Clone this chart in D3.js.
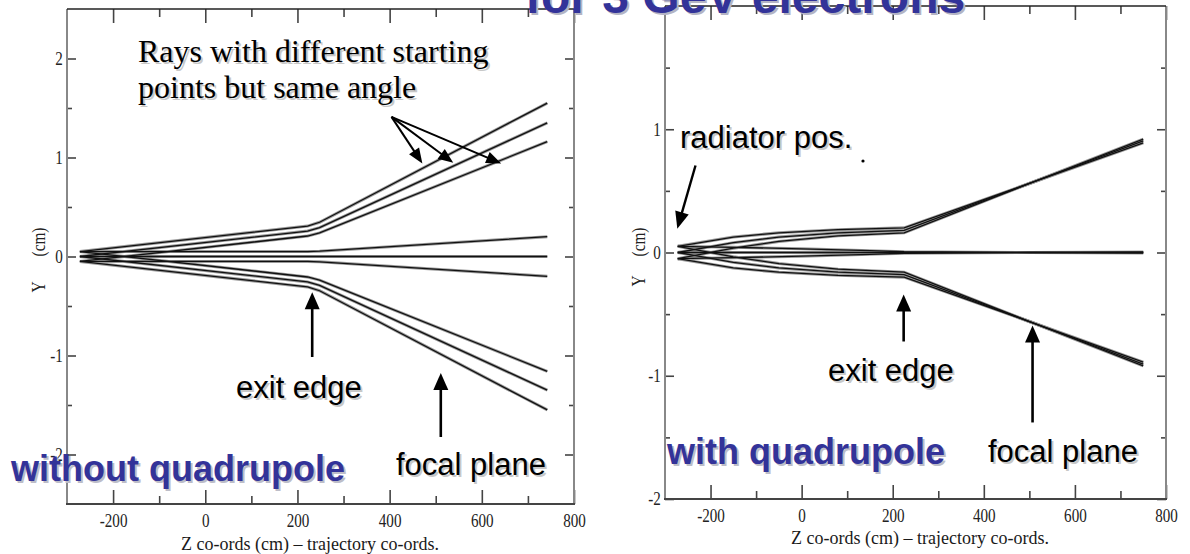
<!DOCTYPE html>
<html>
<head>
<meta charset="utf-8">
<script src="https://cdn.jsdelivr.net/npm/d3@7"></script>
<style>
  html, body { margin: 0; padding: 0; background: #fff; }
  svg { display: block; }
</style>
</head>
<body>
<svg id="chart" width="1190" height="554"></svg>
<script>
// ---- axis ticks ----------------------------------------------------------
const zTicksMajor = [-200, 0, 200, 400, 600, 800];
const zTicksMinor = [-100, 100, 300, 500, 700];
const yTicksMajorLeft = [-2, -1, 0, 1, 2];
const yTicksMajorRight = [-2, -1, 0, 1];   // the top value sits under the heading
const yTicksMinor = [-1.5, -0.5, 0.5, 1.5];

// ---- trajectories without quadrupole: [z (cm), y (cm)] -------------------
// three bundles of parallel rays (start y = +0.05, 0, -0.05)
const raysNoQuadUpper = [
  [[-272, 0.05], [222, 0.307], [248, 0.346], [742, 1.55]],
  [[-272, 0.00], [222, 0.257], [248, 0.292], [742, 1.35]],
  [[-272, -0.05], [222, 0.207], [248, 0.238], [742, 1.16]]
];
const raysNoQuadMiddle = [
  [[-272, 0.05], [222, 0.05], [248, 0.054], [742, 0.20]],
  [[-272, 0.00], [222, 0.00], [248, 0.00], [742, 0.00]],
  [[-272, -0.05], [222, -0.05], [248, -0.054], [742, -0.20]]
];
const raysNoQuadLower = [
  [[-272, -0.05], [222, -0.307], [248, -0.346], [742, -1.55]],
  [[-272, 0.00], [222, -0.257], [248, -0.292], [742, -1.35]],
  [[-272, 0.05], [222, -0.207], [248, -0.238], [742, -1.16]]
];

// ---- trajectories with quadrupole: [z (cm), y (cm)] ----------------------
const raysQuadUpper = [
  [[-272, 0.05], [-150, 0.125], [-50, 0.16], [80, 0.185], [225, 0.20], [500, 0.56], [750, 0.89]],
  [[-272, 0.00], [-150, 0.08], [-50, 0.125], [80, 0.16], [225, 0.18], [500, 0.56], [750, 0.905]],
  [[-272, -0.05], [-150, 0.035], [-50, 0.09], [80, 0.135], [225, 0.16], [500, 0.56], [750, 0.92]]
];
const raysQuadMiddle = [
  [[-272, 0.05], [-150, 0.042], [0, 0.03], [150, 0.015], [225, 0.006], [500, 0.0], [750, -0.004]],
  [[-272, 0.00], [-150, 0.0], [0, 0.0], [150, 0.0], [225, 0.0], [500, 0.0], [750, 0.0]],
  [[-272, -0.05], [-150, -0.042], [0, -0.03], [150, -0.015], [225, -0.006], [500, 0.0], [750, 0.004]]
];
const raysQuadLower = [
  [[-272, -0.05], [-150, -0.125], [-50, -0.16], [80, -0.185], [225, -0.20], [500, -0.56], [750, -0.89]],
  [[-272, 0.00], [-150, -0.08], [-50, -0.125], [80, -0.16], [225, -0.18], [500, -0.56], [750, -0.905]],
  [[-272, 0.05], [-150, -0.035], [-50, -0.09], [80, -0.135], [225, -0.16], [500, -0.56], [750, -0.92]]
];

// ---- styling -------------------------------------------------------------
const SERIF = "'Liberation Serif', 'Times New Roman', serif";
const SANS = "'Liberation Sans', Arial, sans-serif";
const BLUE = "#333399";

const svg = d3.select("#chart");

function drawPanel(cfg) {
  const g = svg.append("g");
  const x = d3.scaleLinear().domain(cfg.xDomain).range(cfg.xRange);
  const y = d3.scaleLinear().domain(cfg.yDomain).range(cfg.yRange);
  const [xl, xr] = cfg.xRange;
  const [yb, yt] = cfg.yRange;
  const fmt = d => String(d);

  const styleAxis = sel => {
    sel.select(".domain").remove();
    sel.selectAll(".tick line").attr("stroke", "#444").attr("stroke-width", 1.6);
    sel.selectAll("text").attr("font-family", SERIF).attr("font-size", 18)
      .attr("fill", "#222").attr("transform", "scale(0.84,1)");
  };

  // bottom
  g.append("g").attr("transform", `translate(0,${yb})`)
    .call(d3.axisBottom(x).tickValues(zTicksMajor).tickSize(-14).tickPadding(10).tickFormat(fmt))
    .call(styleAxis);
  g.append("g").attr("transform", `translate(0,${yb})`)
    .call(d3.axisBottom(x).tickValues(zTicksMinor).tickSize(-8).tickFormat(""))
    .call(styleAxis);
  // top (mirror ticks)
  g.append("g").attr("transform", `translate(0,${yt})`)
    .call(d3.axisTop(x).tickValues(zTicksMajor).tickSize(-14).tickFormat(""))
    .call(styleAxis);
  g.append("g").attr("transform", `translate(0,${yt})`)
    .call(d3.axisTop(x).tickValues(zTicksMinor).tickSize(-8).tickFormat(""))
    .call(styleAxis);
  // left
  g.append("g").attr("transform", `translate(${xl},0)`)
    .call(d3.axisLeft(y).tickValues(cfg.yMajor).tickSize(-9).tickPadding(5).tickFormat(fmt))
    .call(styleAxis);
  g.append("g").attr("transform", `translate(${xl},0)`)
    .call(d3.axisLeft(y).tickValues(yTicksMinor).tickSize(-5).tickFormat(""))
    .call(styleAxis);
  // right
  g.append("g").attr("transform", `translate(${xr},0)`)
    .call(d3.axisRight(y).tickValues(cfg.yMajor).tickSize(-9).tickFormat(""))
    .call(styleAxis);
  g.append("g").attr("transform", `translate(${xr},0)`)
    .call(d3.axisRight(y).tickValues(yTicksMinor).tickSize(-5).tickFormat(""))
    .call(styleAxis);

  // frame
  g.append("line").attr("x1", xl).attr("x2", xl).attr("y1", yt).attr("y2", yb)
    .attr("stroke", "#888").attr("stroke-width", 2);
  g.append("line").attr("x1", xr).attr("x2", xr).attr("y1", yt).attr("y2", yb)
    .attr("stroke", "#888").attr("stroke-width", 2);
  g.append("line").attr("x1", xl).attr("x2", xr).attr("y1", yt).attr("y2", yt)
    .attr("stroke", "#222").attr("stroke-width", 1.6);
  g.append("line").attr("x1", xl - 1).attr("x2", xr + 1).attr("y1", yb).attr("y2", yb)
    .attr("stroke", "#444").attr("stroke-width", 1.8);

  // rays
  const line = d3.line().x(d => x(d[0])).y(d => y(d[1]));
  const rays = cfg.rays;
  g.append("g").selectAll("path").data(rays).join("path")
    .attr("d", line).attr("fill", "none").attr("stroke", "#9a9a9a").attr("stroke-width", 3);
  g.append("g").selectAll("path").data(rays).join("path")
    .attr("d", line).attr("fill", "none").attr("stroke", "#111").attr("stroke-width", 1.3);

  // axis titles
  g.append("text").attr("x", cfg.xTitle[0]).attr("y", cfg.xTitle[1])
    .attr("text-anchor", "middle").attr("font-family", SERIF).attr("font-size", 18)
    .attr("fill", "#1a1a1a").text("Z co-ords (cm) \u2013 trajectory co-ords.");
  g.append("text").attr("transform", `translate(${cfg.yTitleX},${cfg.yTitleY[0]}) rotate(-90) scale(0.85,1)`)
    .attr("text-anchor", "middle").attr("dy", "0.35em").attr("font-family", SERIF)
    .attr("font-size", 18).attr("fill", "#222").text("Y");
  g.append("text").attr("transform", `translate(${cfg.yTitleX},${cfg.yTitleY[1]}) rotate(-90) scale(0.85,1)`)
    .attr("text-anchor", "middle").attr("dy", "0.35em").attr("font-family", SERIF)
    .attr("font-size", 18).attr("fill", "#222").text("(cm)");

  return { x, y, g };
}

function arrow(g, x1, y1, x2, y2, headLen, headW, width) {
  const dx = x2 - x1, dy = y2 - y1, L = Math.hypot(dx, dy);
  const ux = dx / L, uy = dy / L;
  const bx = x2 - ux * headLen, by = y2 - uy * headLen;
  g.append("line").attr("x1", x1).attr("y1", y1).attr("x2", bx + ux * 2).attr("y2", by + uy * 2)
    .attr("stroke", "#000").attr("stroke-width", width);
  const px = -uy * headW / 2, py = ux * headW / 2;
  g.append("path")
    .attr("d", `M${x2},${y2}L${bx + px},${by + py}L${bx - px},${by - py}Z`)
    .attr("fill", "#000");
}

function label(g, x, y, str, font, size, color, weight, shadow) {
  g.append("text").attr("x", x + 2).attr("y", y + 2).attr("font-family", font)
    .attr("font-size", size).attr("font-weight", weight).attr("fill", shadow).text(str);
  g.append("text").attr("x", x).attr("y", y).attr("font-family", font)
    .attr("font-size", size).attr("font-weight", weight).attr("fill", color).text(str);
}

// ---- left panel: without quadrupole --------------------------------------
const left = drawPanel({
  xDomain: [-300, 800], xRange: [67, 574],
  yDomain: [-2.5, 2.5], yRange: [504, 9], yMajor: yTicksMajorLeft,
  rays: [...raysNoQuadUpper, ...raysNoQuadMiddle, ...raysNoQuadLower],
  xTitle: [310, 550], yTitleX: 39, yTitleY: [287, 242]
});

// ---- right panel: with quadrupole ----------------------------------------
const right = drawPanel({
  xDomain: [-300, 800], xRange: [665, 1166],
  yDomain: [-2, 2], yRange: [499, 6], yMajor: yTicksMajorRight,
  rays: [...raysQuadUpper, ...raysQuadMiddle, ...raysQuadLower],
  xTitle: [920, 544], yTitleX: 639, yTitleY: [281, 242]
});

const ann = svg.append("g");

// annotations, left panel
{
  const { x, y } = left;
  const o = [x(404), y(1.41)];
  [[471, 0.94], [538, 0.947], [642, 0.94]].forEach(t =>
    arrow(ann, o[0], o[1], x(t[0]), y(t[1]), 15, 12, 2));
  arrow(ann, x(232), y(-1.015), x(232), y(-0.36), 17, 15, 2.6);
  arrow(ann, x(511), y(-1.823), x(511), y(-1.177), 17, 15, 2.6);
  label(ann, 138, 62, "Rays with different starting", SERIF, 32, "#000", "normal", "#c8c8c8");
  label(ann, 138, 98, "points but same angle", SERIF, 32, "#000", "normal", "#c8c8c8");
  label(ann, 236, 398, "exit edge", SANS, 31, "#000", "normal", "#c8c8c8");
  label(ann, 396, 475, "focal plane", SANS, 31, "#000", "normal", "#c8c8c8");
  label(ann, 11, 481, "without quadrupole", SANS, 36, BLUE, "bold", "#bdbdc8");
}

// annotations, right panel
{
  const { x, y } = right;
  arrow(ann, x(-233), y(0.706), x(-273), y(0.192), 17, 14, 2.4);
  arrow(ann, x(224), y(-0.722), x(224), y(-0.341), 17, 15, 2.6);
  arrow(ann, x(507), y(-1.379), x(507), y(-0.592), 17, 15, 2.6);
  label(ann, 680, 148, "radiator pos.", SANS, 31, "#000", "normal", "#c8c8c8");
  ann.append("circle").attr("cx", 863).attr("cy", 161).attr("r", 1.6).attr("fill", "#000");
  label(ann, 828, 381, "exit edge", SANS, 31, "#000", "normal", "#c8c8c8");
  label(ann, 988, 462, "focal plane", SANS, 31, "#000", "normal", "#c8c8c8");
  label(ann, 667, 464, "with quadrupole", SANS, 36, BLUE, "bold", "#bdbdc8");
}

// slide heading, clipped by the top edge
label(ann, 525, 13, "for 3 GeV electrons", SANS, 48, BLUE, "bold", "#b4b4c4");
</script>
</body>
</html>
